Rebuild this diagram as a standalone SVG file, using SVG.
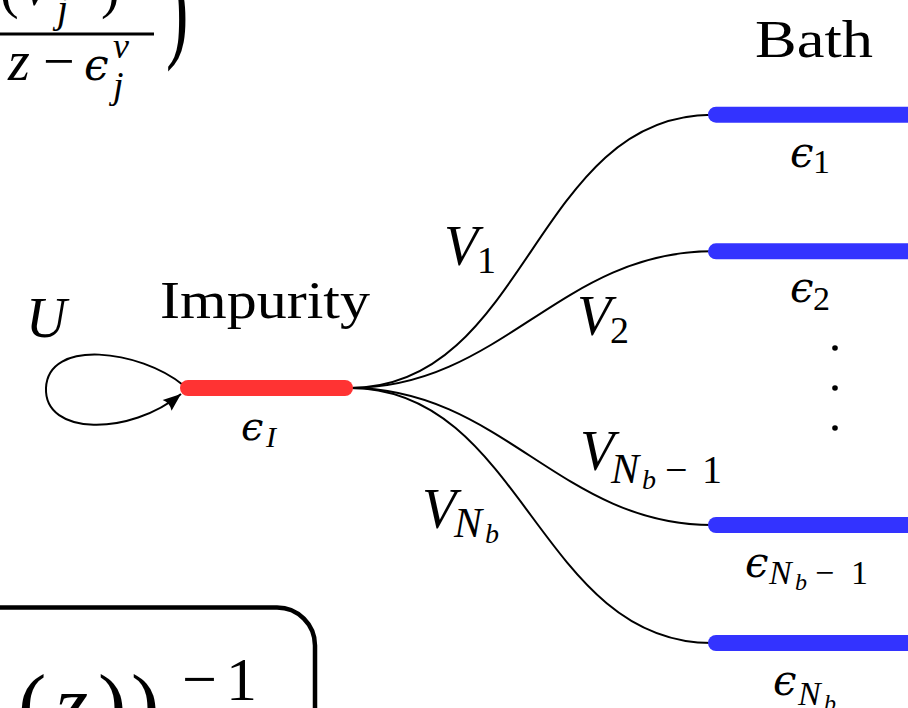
<svg xmlns="http://www.w3.org/2000/svg" width="908" height="708" viewBox="0 0 908 708">
<style>
.rm{font-family:"Liberation Serif","DejaVu Serif",serif;fill:#000}
.it{font-family:"Liberation Serif","DejaVu Serif",serif;font-style:italic;fill:#000}
.eps{font-family:"DejaVu Serif","Liberation Serif",serif;font-style:italic;fill:#000}
.conn{fill:none;stroke:#000;stroke-width:2}
.imp{stroke:#ff3333;stroke-width:16;stroke-linecap:round}
.bath{stroke:#3333ff;stroke-width:16;stroke-linecap:round}
</style>
<defs>
<marker id="arr" markerUnits="userSpaceOnUse" markerWidth="24" markerHeight="24" viewBox="-20 -10 24 20" refX="0" refY="0" orient="auto">
<path d="M0,0 L-18,-7 Q-14,0 -18,7 Z" fill="#000"/>
</marker>
</defs>
<rect width="908" height="708" fill="#fff"/>

<g id="formula-top">
<text class="rm" x="0" y="7" font-size="56">(</text>
<text class="it" x="19" y="5" font-size="56">V</text>
<text class="it" x="57" y="22" font-size="40">j</text>
<text class="rm" x="101" y="7" font-size="56">)</text>
<rect x="0" y="32.5" width="154" height="3" fill="#000"/>
<text class="it" x="8" y="80" font-size="56">z</text>
<text class="rm" x="43" y="80" font-size="56">−</text>
<text class="eps" x="84" y="80" font-size="44">ϵ</text>
<text class="it" x="113" y="58" font-size="36">ν</text>
<text class="it" x="113" y="98" font-size="38">j</text>
<text class="rm" font-size="96" transform="translate(166,47) scale(0.7,1.2)">)</text>
</g>

<g id="formula-box">
<rect x="-60" y="607.5" width="375" height="200" rx="38" fill="none" stroke="#000" stroke-width="4.5"/>
<text class="rm" x="18" y="733" font-size="85">(</text>
<text class="it" x="55" y="733" font-size="85">z</text>
<text class="rm" x="98" y="733" font-size="85">)</text>
<text class="rm" x="131" y="733" font-size="85">)</text>
<text class="rm" x="182" y="700" font-size="62">−</text>
<text class="rm" x="226" y="700" font-size="62">1</text>
</g>

<g id="connectors">
<path class="conn" d="M183,385 C140,350 48,338 46,388 C44,436 130,436 181,394" marker-end="url(#arr)"/>
<path class="conn" d="M350,388 C527.6,388 534.4,114.7 712,114.7"/>
<path class="conn" d="M350,388 C501.5,388 560.5,251.3 712,251.3"/>
<path class="conn" d="M350,388 C501.5,388 560.5,525 712,525"/>
<path class="conn" d="M350,388 C523.4,388 538.6,643 712,643"/>
</g>

<g id="impurity">
<line class="imp" x1="188" y1="388" x2="345" y2="388"/>
<text class="rm" x="160" y="318" font-size="52" textLength="210" lengthAdjust="spacingAndGlyphs">Impurity</text>
<text class="it" x="26" y="337" font-size="56">U</text>
<text class="eps" x="241" y="440" font-size="40">ϵ</text>
<text class="it" x="266" y="447" font-size="30">I</text>
</g>

<g id="bath-label">
<text class="rm" x="755" y="57" font-size="52" textLength="118" lengthAdjust="spacingAndGlyphs">Bath</text>
</g>

<g id="bath-1">
<line class="bath" x1="716" y1="114.7" x2="930" y2="114.7"/>
<text class="eps" x="790" y="167" font-size="42">ϵ</text>
<text class="rm" x="813" y="173" font-size="34">1</text>
</g>

<g id="bath-2">
<line class="bath" x1="716" y1="251.3" x2="930" y2="251.3"/>
<text class="eps" x="790" y="302" font-size="42">ϵ</text>
<text class="rm" x="813" y="310" font-size="34">2</text>
</g>

<g id="dots">
<circle cx="835" cy="348" r="2.8" fill="#000"/>
<circle cx="835" cy="388" r="2.8" fill="#000"/>
<circle cx="835" cy="428" r="2.8" fill="#000"/>
</g>

<g id="bath-nb-1">
<line class="bath" x1="716" y1="525" x2="930" y2="525"/>
<text class="eps" x="745" y="577" font-size="42">ϵ</text>
<text class="it" x="769" y="584" font-size="34">N</text>
<text class="it" x="795" y="590" font-size="24">b</text>
<text class="rm" x="815" y="584" font-size="34">−</text>
<text class="rm" x="851" y="584" font-size="34">1</text>
</g>

<g id="bath-nb">
<line class="bath" x1="716" y1="643" x2="930" y2="643"/>
<text class="eps" x="773" y="695" font-size="42">ϵ</text>
<text class="it" x="798" y="705" font-size="34">N</text>
<text class="it" x="824" y="711" font-size="24">b</text>
</g>

<g id="labels-V">
<text class="it" x="444" y="265" font-size="56">V</text>
<text class="rm" x="477" y="273" font-size="38">1</text>
<text class="it" x="577" y="335" font-size="56">V</text>
<text class="rm" x="610" y="343" font-size="38">2</text>
<text class="it" x="580" y="470" font-size="56">V</text>
<text class="it" x="611" y="483" font-size="42">N</text>
<text class="it" x="642" y="489" font-size="28">b</text>
<text class="rm" x="665" y="483" font-size="40">−</text>
<text class="rm" x="702" y="483" font-size="40">1</text>
<text class="it" x="422" y="528" font-size="56">V</text>
<text class="it" x="454" y="537" font-size="42">N</text>
<text class="it" x="485" y="543" font-size="28">b</text>
</g>
</svg>
